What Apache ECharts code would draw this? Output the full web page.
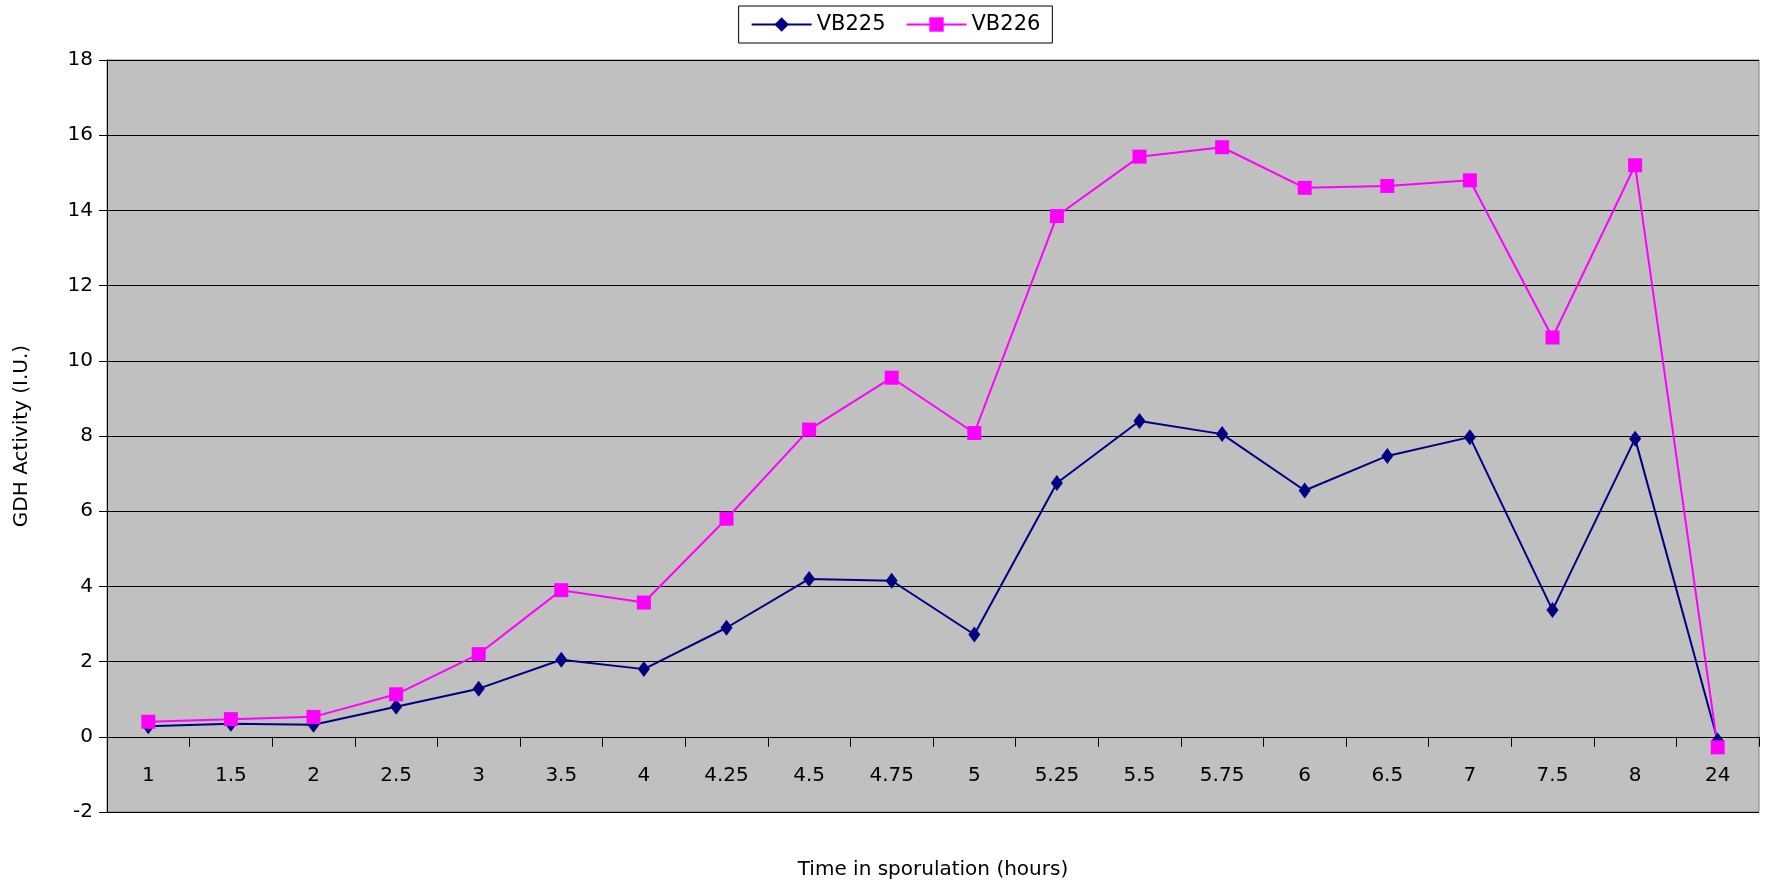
<!DOCTYPE html>
<html>
<head>
<meta charset="utf-8">
<script src="https://cdn.jsdelivr.net/npm/echarts@6/dist/echarts.min.js"></script>
<style>html,body{margin:0;padding:0;background:#fff}#chart{width:1791px;height:885px}</style>
</head>
<body>
<div id="chart"></div>
<script>
var categories = ['1','1.5','2','2.5','3','3.5','4','4.25','4.5','4.75','5','5.25','5.5','5.75','6','6.5','7','7.5','8','24'];
var vb225 = [0.28,0.35,0.32,0.8,1.28,2.05,1.8,2.9,4.2,4.15,2.72,6.75,8.4,8.05,6.55,7.47,7.97,3.37,7.93,-0.1];
var vb226 = [0.4,0.47,0.53,1.13,2.2,3.9,3.57,5.8,8.17,9.55,8.08,13.85,15.43,15.68,14.6,14.65,14.8,10.62,15.2,-0.28];

var font = 'DejaVu Sans';
var myChart = echarts.init(document.getElementById('chart'));
var option = {
	textStyle: {fontFamily: font},
	legend: {
		top: 6,
		left: 'center',
		data: ['VB225','VB226'],
		borderColor: '#000',
		borderWidth: 1,
		padding: [8,12],
		itemWidth: 60,
		itemHeight: 18,
		itemGap: 20,
		textStyle: {fontSize: 21, color: '#000', fontFamily: font}
	},
	grid: {
		left: 107, right: 32, top: 60, bottom: 64,
		show: true,
		backgroundColor: '#C0C0C0',
		borderColor: '#808080',
		borderWidth: 1
	},
	xAxis: {
		type: 'category',
		data: categories,
		boundaryGap: true,
		name: 'Time in sporulation (hours)',
		nameLocation: 'middle',
		nameGap: 48,
		nameTextStyle: {fontSize: 20, color: '#000'},
		axisLine: {onZero: true, lineStyle: {color: '#000'}},
		axisTick: {show: true, length: 10, lineStyle: {color: '#000'}},
		axisLabel: {fontSize: 20, color: '#000', margin: -46}
	},
	yAxis: {
		type: 'value',
		min: -2, max: 18, interval: 2,
		name: 'GDH Activity (I.U.)',
		nameLocation: 'middle',
		nameGap: 75,
		nameTextStyle: {fontSize: 20, color: '#000'},
		axisLine: {show: true, lineStyle: {color: '#000'}},
		axisTick: {show: true, length: 8, lineStyle: {color: '#000'}},
		axisLabel: {fontSize: 20, color: '#000', margin: 14},
		splitLine: {lineStyle: {color: '#000', width: 1}}
	},
	series: [
		{
			name: 'VB225', type: 'line', data: vb225,
			symbol: 'diamond', symbolSize: [12,16],
			itemStyle: {color: '#000080'},
			lineStyle: {color: '#000080', width: 2}
		},
		{
			name: 'VB226', type: 'line', data: vb226,
			symbol: 'rect', symbolSize: 14,
			itemStyle: {color: '#FF00FF'},
			lineStyle: {color: '#FF00FF', width: 2}
		}
	]
};
myChart.setOption(option);
</script>
</body>
</html>
